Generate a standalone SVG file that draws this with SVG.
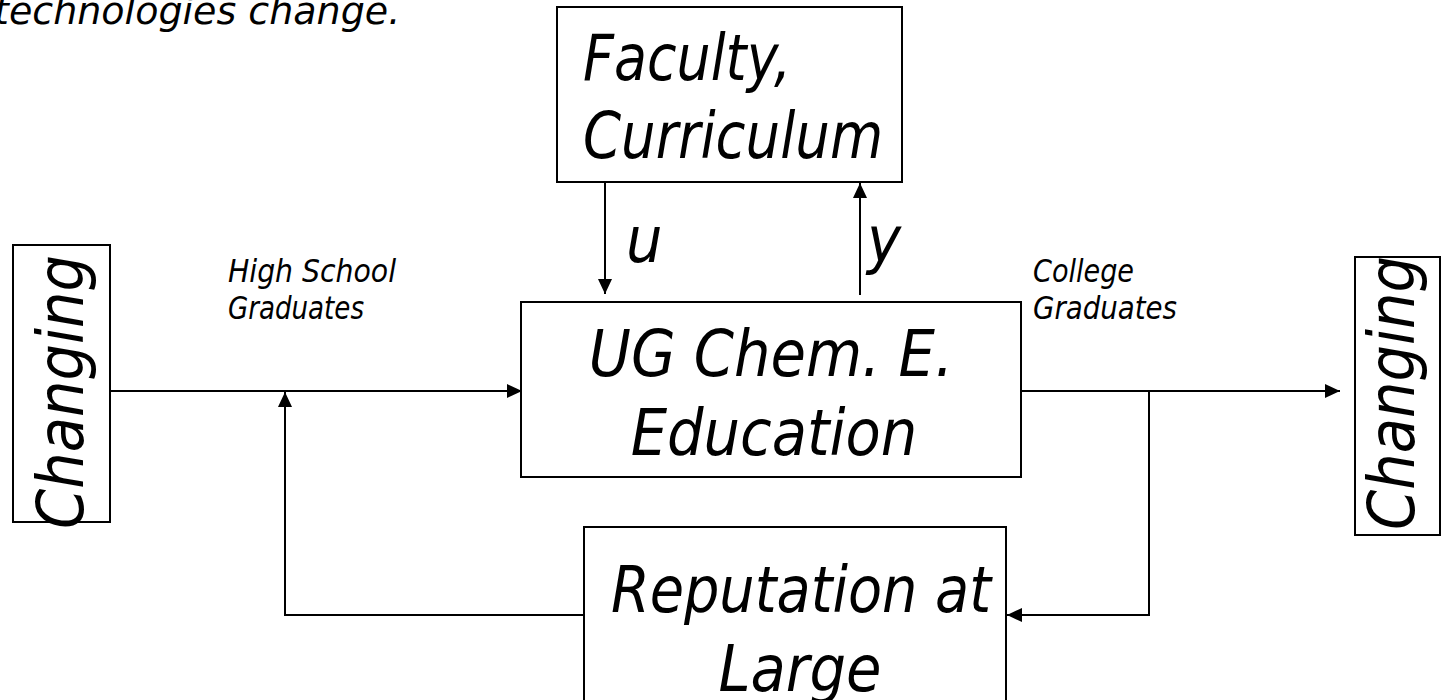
<svg xmlns="http://www.w3.org/2000/svg" width="1453" height="700" viewBox="0 0 1453 700">
  <style>
    .box { fill: #ffffff; stroke: #000000; stroke-width: 2; }
    .wire { fill: none; stroke: #000000; stroke-width: 2; }
    .big { font-family: "DejaVu Sans", "Liberation Sans", sans-serif; font-style: italic; font-stretch: condensed; font-size: 64px; fill: #000000; }
    .small { font-family: "DejaVu Sans", "Liberation Sans", sans-serif; font-style: italic; font-stretch: condensed; font-size: 32px; fill: #000000; }
    .top { font-family: "DejaVu Sans", "Liberation Sans", sans-serif; font-style: italic; font-size: 38px; fill: #000000; }
  </style>
  <defs>
    <!-- filled triangular arrowhead, tip on the path end -->
    <marker id="arrow" viewBox="0 0 10 10" refX="10" refY="5" markerWidth="15" markerHeight="14" markerUnits="userSpaceOnUse" orient="auto" preserveAspectRatio="none">
      <path d="M0,0 L10,5 L0,10 Z" fill="#000000"/>
    </marker>
  </defs>
  <rect width="1453" height="700" fill="#ffffff"/>

  <text class="top" x="-6" y="24">technologies change.</text>

  <!-- connectors -->
  <g id="connectors">
    <path class="wire" d="M110,391 H522" marker-end="url(#arrow)"/>
    <path class="wire" d="M589,615 H285 V392" marker-end="url(#arrow)"/>
    <path class="wire" d="M1021,391 H1340" marker-end="url(#arrow)"/>
    <path class="wire" d="M1149,391 V615 H1007" marker-end="url(#arrow)"/>
    <path class="wire" d="M605,182 V294" marker-end="url(#arrow)"/>
    <path class="wire" d="M860,295 V183" marker-end="url(#arrow)"/>
  </g>

  <!-- edge labels -->
  <g id="labels">
    <text class="small" x="228" y="282" textLength="168" lengthAdjust="spacingAndGlyphs">High School</text>
    <text class="small" x="228" y="319" textLength="136" lengthAdjust="spacingAndGlyphs">Graduates</text>
    <text class="small" x="1033" y="282" textLength="101" lengthAdjust="spacingAndGlyphs">College</text>
    <text class="small" x="1033" y="319" textLength="144" lengthAdjust="spacingAndGlyphs">Graduates</text>
    <text class="big" x="626" y="262">u</text>
    <text class="big" x="867" y="262">y</text>
  </g>

  <g id="changing-in">
    <rect class="box" x="13" y="245" width="97" height="277"/>
    <text class="big" text-anchor="middle" transform="translate(83,392) rotate(-90)">Changing</text>
  </g>

  <g id="faculty">
    <rect class="box" x="557" y="7" width="345" height="175"/>
    <text class="big" x="583" y="80" textLength="208" lengthAdjust="spacingAndGlyphs">Faculty,</text>
    <text class="big" x="583" y="158" textLength="300" lengthAdjust="spacingAndGlyphs">Curriculum</text>
  </g>

  <g id="education">
    <rect class="box" x="521" y="302" width="500" height="175" stroke-width="2.5"/>
    <text class="big" x="771" y="376" text-anchor="middle">UG Chem. E.</text>
    <text class="big" x="774" y="455" text-anchor="middle">Education</text>
  </g>

  <g id="reputation">
    <rect class="box" x="584" y="527" width="422" height="200"/>
    <text class="big" x="611" y="612" textLength="380" lengthAdjust="spacingAndGlyphs">Reputation at</text>
    <text class="big" x="800" y="691" text-anchor="middle">Large</text>
  </g>

  <g id="changing-out">
    <rect class="box" x="1355" y="257" width="85" height="278"/>
    <text class="big" text-anchor="middle" transform="translate(1414,393) rotate(-90)">Changing</text>
  </g>
</svg>
